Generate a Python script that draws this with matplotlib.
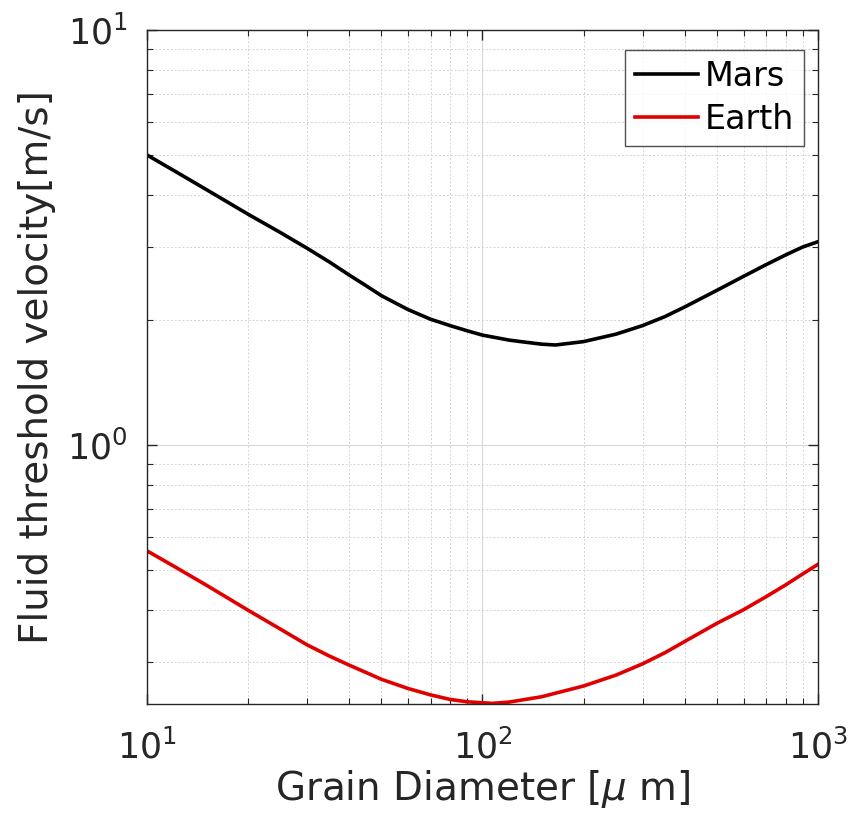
"""Fluid threshold velocity vs grain diameter, Mars and Earth (log-log)."""
import matplotlib
matplotlib.use("Agg")
import matplotlib.pyplot as plt

# values
grain_um = [10, 12, 15, 20, 25, 30, 35, 40, 45, 50, 60, 70, 80, 90, 100, 120, 130,
            150, 165, 200, 250, 300, 350, 400, 500, 600, 700, 800, 900, 1000]
mars_ms = [5.0, 4.59, 4.13, 3.60, 3.25, 2.98, 2.76, 2.57, 2.42, 2.29, 2.12, 2.01,
           1.94, 1.885, 1.84, 1.79, 1.775, 1.75, 1.742, 1.775, 1.85, 1.94, 2.04, 2.15,
           2.36, 2.55, 2.72, 2.87, 3.0, 3.09]

grain_um_earth = [10, 12, 15, 20, 25, 30, 35, 40, 45, 50, 60, 70, 80, 90, 100, 107,
                  120, 150, 200, 250, 300, 350, 400, 500, 600, 700, 800, 900, 1000]
earth_ms = [0.556, 0.511, 0.460, 0.400, 0.360, 0.330, 0.310, 0.295, 0.283, 0.2725,
            0.259, 0.250, 0.2438, 0.2406, 0.2393, 0.2385, 0.2402, 0.2474, 0.2626,
            0.279, 0.297, 0.316, 0.336, 0.372, 0.401, 0.431, 0.460, 0.489, 0.516]

plt.rcParams["font.family"] = ["DejaVu Sans"]
plt.rcParams["mathtext.fontset"] = "dejavusans"

fig = plt.figure(figsize=(8.53, 8.25), dpi=100)
ax = fig.add_axes([0.1723, 0.1467, 0.9590 - 0.1723, 0.9636 - 0.1467])

ax.plot(grain_um, mars_ms, color="black", lw=2.6, label="Mars")
ax.plot(grain_um_earth, earth_ms, color="#e00000", lw=2.6, label="Earth")

ax.set_xscale("log")
ax.set_yscale("log")
ax.set_xlim(10, 1000)
ax.set_ylim(0.2377, 10)

ax.grid(True, which="major", color="#d8d8d8", lw=0.8, ls="-")
ax.grid(True, which="minor", color="#d4d4d4", lw=0.7, ls=(0, (2, 2)))
ax.set_axisbelow(True)

ax.tick_params(which="both", direction="in", top=True, right=True,
               color="#262626", labelcolor="#262626", labelsize=25)
ax.tick_params(axis="x", pad=18)
ax.tick_params(axis="y", pad=14)
ax.tick_params(which="major", length=7, width=1)
ax.tick_params(which="minor", length=4, width=0.8)
for sp in ax.spines.values():
    sp.set_color("#262626")
    sp.set_linewidth(1.0)

ax.set_xlabel(r"Grain Diameter [$\mu$ m]", fontsize=28, color="#262626", labelpad=2)
ax.set_ylabel("Fluid threshold velocity[m/s]", fontsize=28, color="#262626", labelpad=8)

leg = ax.legend(loc="upper right", bbox_to_anchor=(0.979, 0.971), fontsize=24,
                frameon=True, fancybox=False, edgecolor="#262626",
                handlelength=1.9, handletextpad=0.2, borderpad=0.3,
                labelspacing=0.3, borderaxespad=0)
leg.get_frame().set_linewidth(1.0)

fig.savefig("out.png", dpi=100)
